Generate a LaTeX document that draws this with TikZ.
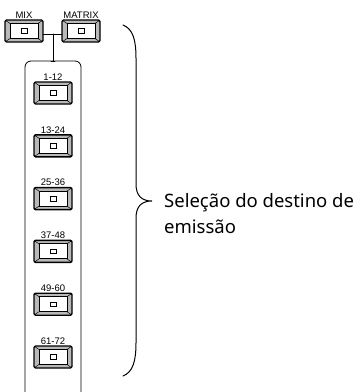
\documentclass[tikz,border=0pt]{standalone}
\usepackage{fontspec}
\setmainfont{Noto Sans}
\newfontfamily\keyfont{Liberation Sans}
\usetikzlibrary{calc}

\tikzset{
  keybtn/.style={draw, line width=1.4pt, fill=gray!55, rounded corners=1.5pt,
    minimum width=38pt, minimum height=22pt, inner sep=0pt, outer sep=0pt,
    label={[keylbl]above:#1}},
  keylbl/.style={font=\keyfont\fontsize{9.5}{10}\selectfont, inner sep=1.5pt},
  keyface/.style={draw, line width=.9pt, fill=white, minimum width=28pt,
    minimum height=15pt, inner sep=0pt, outer sep=0pt},
  keylamp/.style={draw, line width=.7pt, minimum width=6pt, minimum height=4.5pt,
    inner sep=0pt},
}

% one key: name, position, caption
\newcommand\keybutton[3]{%
  \node[keybtn=#3] (#1) at (#2) {};
  \node[keyface] (#1f) at (#1) {};
  \draw[line width=.5pt] (#1.north west) -- (#1f.north west)
    (#1.north east) -- (#1f.north east)
    (#1.south west) -- (#1f.south west)
    (#1.south east) -- (#1f.south east);
  \node[keylamp] (#1l) at (#1f) {};
}

\begin{document}
\begin{tikzpicture}[x=1pt, y=-1pt, line cap=round]
    \useasboundingbox (0,0) rectangle (361,392);
    % bus keys
    \keybutton{mix}{24,31}{MIX}
    \keybutton{matrix}{81,31}{MATRIX}
    \coordinate (tj) at (53,34);
    \coordinate (ptop) at (53,61);
    \draw[line width=.8pt] (mix.east |- tj) -- (matrix.west |- tj);
    \draw[line width=.8pt] (tj) -- (ptop);
    \draw[line width=.8pt] ([xshift=-2pt]ptop) -- ([xshift=2pt]ptop);
    % panel
    \draw[line width=.8pt, rounded corners=6pt]
        (25,393) -- (25,61) -- (81,61) -- (81,393);
    \foreach \lbl [count=\i] in {1-12,13-24,25-36,37-48,49-60,61-72}
        \keybutton{b\i}{53,{93+52.8*(\i-1)}}{\lbl};
    % brace
    \draw[line width=1pt]
        (123,25) .. controls (133,29) and (136,40) .. (136,58)
        -- (136,184) .. controls (136,196) and (142,201) .. (152,201)
        .. controls (142,201) and (136,206) .. (136,218)
        -- (136,343) .. controls (136,361) and (133,372) .. (123,376);
    \node[anchor=base west, align=left, font=\fontsize{18.5}{26}\selectfont, inner sep=0pt]
        (sel) at (164,233) {Seleção do destino de\\emissão};
\end{tikzpicture}
\end{document}
